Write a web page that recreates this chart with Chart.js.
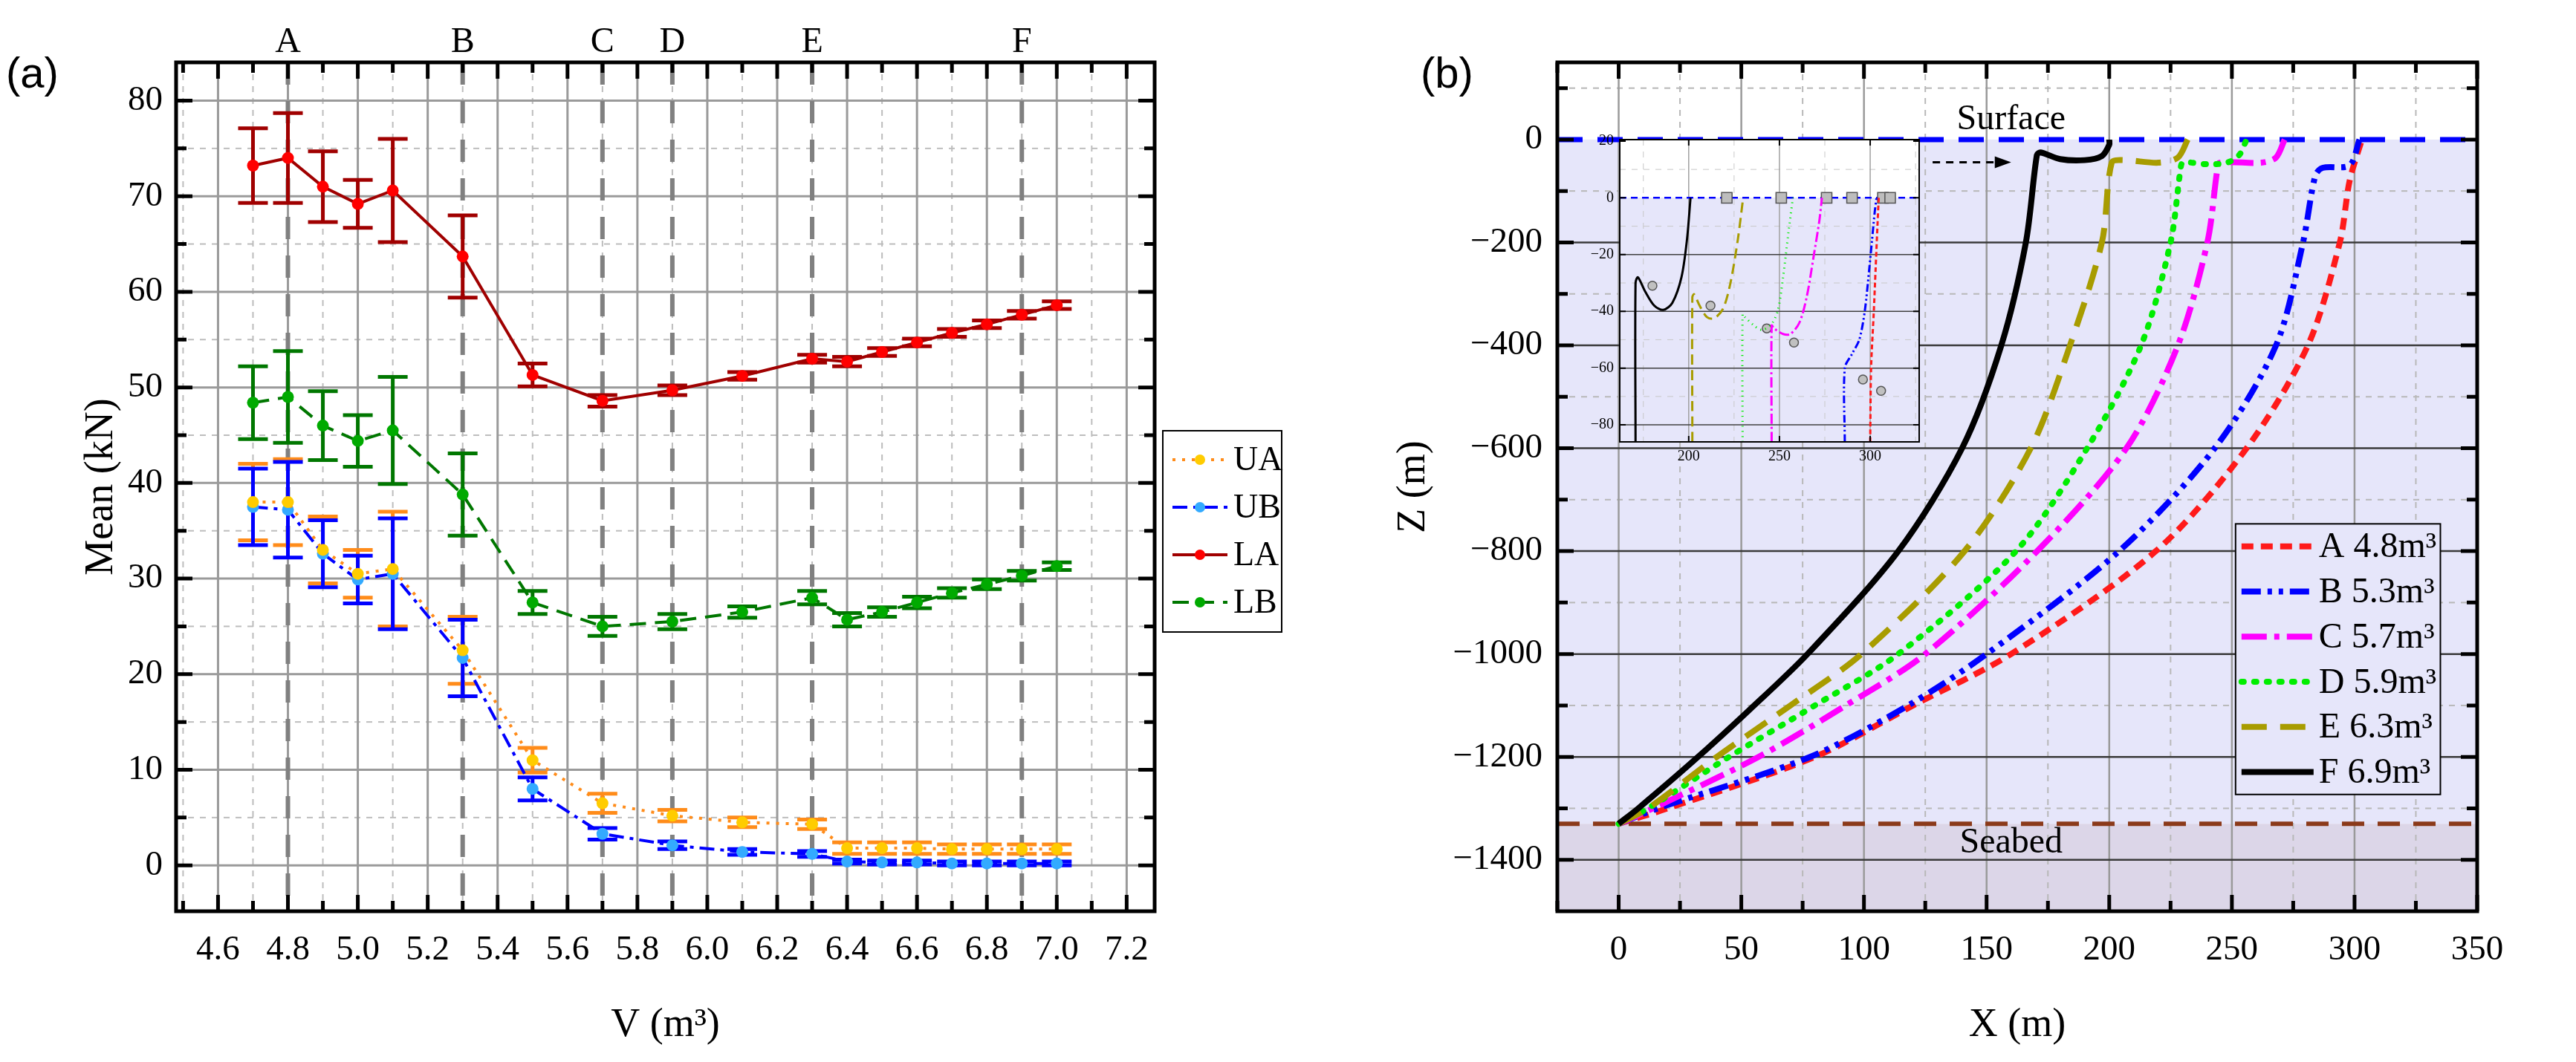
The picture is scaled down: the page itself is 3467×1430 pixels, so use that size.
<!DOCTYPE html>
<html>
<head>
<meta charset="utf-8">
<script src="https://cdn.jsdelivr.net/npm/chart.js@4.4.1/dist/chart.umd.min.js"></script>
<style>
  html, body { margin: 0; padding: 0; background: #fff; }
  #wrap { position: relative; width: 3467px; height: 1430px; overflow: hidden; }
  canvas { position: absolute; top: 0; }
  #cA { left: 0; }
  #cB { left: 1800px; }
  #cIn { left: 2100px; top: 150px; }
</style>
</head>
<body>
<div id="wrap">
  <canvas id="cA" width="1760" height="1430"></canvas>
  <canvas id="cB" width="1667" height="1430"></canvas>
  <canvas id="cIn" width="520" height="500"></canvas>
</div>
<script>
// ---- panel (a) data ----
const volumes = [4.7, 4.8, 4.9, 5.0, 5.1, 5.3, 5.5, 5.7, 5.9, 6.1, 6.3, 6.4, 6.5, 6.6, 6.7, 6.8, 6.9, 7.0];
const uaMean = [38.0, 38.0, 33.0, 30.5, 31.0, 22.5, 11.0, 6.5, 5.2, 4.5, 4.3, 1.8, 1.8, 1.8, 1.7, 1.7, 1.7, 1.7];
const uaErr  = [4.0, 4.5, 3.5, 2.5, 6.0, 3.5, 1.3, 1.0, 0.6, 0.5, 0.5, 0.6, 0.6, 0.6, 0.5, 0.5, 0.5, 0.5];
const ubMean = [37.5, 37.2, 32.6, 29.9, 30.5, 21.7, 8.0, 3.3, 2.1, 1.4, 1.2, 0.4, 0.3, 0.3, 0.2, 0.2, 0.2, 0.2];
const ubErr  = [4.0, 5.0, 3.5, 2.5, 5.8, 4.0, 1.2, 0.6, 0.4, 0.3, 0.3, 0.2, 0.2, 0.2, 0.2, 0.2, 0.2, 0.2];
const laMean = [73.2, 74.0, 71.0, 69.2, 70.6, 63.7, 51.3, 48.6, 49.7, 51.2, 53.0, 52.7, 53.7, 54.7, 55.7, 56.6, 57.6, 58.6];
const laErr  = [3.9, 4.7, 3.7, 2.5, 5.4, 4.3, 1.2, 0.6, 0.5, 0.4, 0.4, 0.5, 0.4, 0.4, 0.4, 0.4, 0.4, 0.4];
const lbMean = [48.4, 49.0, 46.0, 44.4, 45.5, 38.8, 27.5, 25.0, 25.5, 26.5, 28.0, 25.7, 26.5, 27.5, 28.5, 29.4, 30.3, 31.3];
const lbErr  = [3.8, 4.8, 3.6, 2.7, 5.6, 4.3, 1.2, 1.0, 0.8, 0.6, 0.7, 0.7, 0.5, 0.6, 0.5, 0.5, 0.5, 0.4];
const caseNames = ['A', 'B', 'C', 'D', 'E', 'F'];
const caseVolumes = [4.8, 5.3, 5.7, 5.9, 6.3, 6.9];
const xTicksA = [4.6, 4.8, 5.0, 5.2, 5.4, 5.6, 5.8, 6.0, 6.2, 6.4, 6.6, 6.8, 7.0, 7.2];
const yTicksA = [0, 10, 20, 30, 40, 50, 60, 70, 80];

// ---- panel (b) data: trajectories X (m), Z (m) ----
const aX = [0, 20, 80, 120, 160, 219, 256, 281, 294, 298, 303];
const aZ = [-1330, -1300, -1200, -1100, -1000, -800, -600, -400, -200, -80, 0];
const bX = [0, 16, 78, 118, 150, 204, 243, 268, 279, 284, 287, 298, 302];
const bZ = [-1330, -1300, -1200, -1100, -1000, -800, -600, -400, -200, -70, -55, -50, 0];
const cX = [0, 14, 57, 92.6, 125, 170.6, 207, 228, 240, 244, 245, 262, 268, 271.5];
const cZ = [-1330, -1300, -1200, -1100, -1000, -800, -600, -400, -200, -60, -45, -45, -35, 0];
const dX = [0, 12, 45, 80, 114, 162, 191, 213, 225, 229, 230, 240, 248, 253, 256];
const dZ = [-1330, -1300, -1200, -1100, -1000, -800, -600, -400, -200, -60, -45, -48, -45, -30, 0];
const eX = [0, 12, 40, 70, 99, 141, 168, 184, 197, 201, 206, 220, 228, 232];
const eZ = [-1330, -1300, -1200, -1100, -1000, -800, -600, -400, -200, -45, -40, -45, -35, 0];
const fX = [0, 8, 30, 53, 77, 114, 140, 156, 166, 170.5, 172, 180, 190, 197, 200, 200];
const fZ = [-1330, -1300, -1210, -1110, -1000, -800, -600, -400, -200, -30, -25, -38, -40, -32, -10, 0];
const trajLabels = ['A 4.8m³', 'B 5.3m³', 'C 5.7m³', 'D 5.9m³', 'E 6.3m³', 'F 6.9m³'];
const xTicksB = [0, 50, 100, 150, 200, 250, 300, 350];
const yTicksB = [0, -200, -400, -600, -800, -1000, -1200, -1400];
const seabedZ = -1330;

// ---- inset data ----
const aInX = [300, 300.5, 302, 303, 304, 304.7];
const aInZ = [-86, -60, -40, -25, -10, 0];
const bInX = [286, 286, 290, 294, 297, 299.5, 301, 302.5, 303.5];
const bInZ = [-86, -60, -55, -50, -40, -25, -15, -5, 0];
const cInX = [245.7, 245.7, 247, 252, 256, 261, 265, 269, 272, 273.4];
const cInZ = [-86, -45, -46, -48, -48, -44, -35, -20, -8, 0];
const dInX = [229.7, 229.7, 231, 236, 240, 245, 249, 252, 255, 257.4];
const dInZ = [-86, -41, -42, -45, -46.5, -45, -40, -28, -12, 0];
const eInX = [202, 202, 203, 206, 210, 214, 219, 223, 227, 230];
const eInZ = [-86, -35, -34, -38, -42, -42.5, -39, -30, -15, 0];
const fInX = [170.7, 170.7, 172, 176, 181, 186, 191, 196, 199, 201];
const fInZ = [-86, -30, -28, -33, -38, -39.5, -37, -28, -15, 0];
const buoyX = [221, 251, 276, 290, 307, 311];
const anchorX = [180, 212, 243, 258, 296, 306];
const anchorZ = [-31, -38, -46, -51, -64, -68];
const xTicksIn = [200, 250, 300];
const yTicksIn = [20, 0, -20, -40, -60, -80];

const SERIF = '"Liberation Serif", "DejaVu Serif", serif';
Chart.defaults.font.family = SERIF;
Chart.defaults.color = '#000';
Chart.defaults.animation = false;

const trajStyles = [
  { color: '#ff1a1a', dash: [16, 10] },
  { color: '#0000ff', dash: [26, 9, 6, 9, 6, 9] },
  { color: '#ff00ff', dash: [34, 10, 7, 10] },
  { color: '#00ee00', dash: [3, 14] },
  { color: '#a89c00', dash: [34, 18] },
  { color: '#000000', dash: [] }
];

function pts(xs, ys) {
  return xs.map(function (x, i) { return { x: x, y: ys[i] }; });
}

function minusFmt(v) {
  return String(v).replace('-', '\u2212');
}

// grid, frame and inward ticks drawn by hand
function drawGrid(chart, g) {
  const ctx = chart.ctx, a = chart.chartArea, sx = chart.scales.x, sy = chart.scales.y;
  ctx.save();
  ctx.beginPath();
  ctx.rect(a.left, a.top, a.right - a.left, a.bottom - a.top);
  ctx.clip();
  function line(x1, y1, x2, y2, color, w, dash) {
    ctx.beginPath();
    ctx.strokeStyle = color;
    ctx.lineWidth = w;
    ctx.setLineDash(dash);
    ctx.moveTo(x1, y1);
    ctx.lineTo(x2, y2);
    ctx.stroke();
  }
  g.xMinor.forEach(function (v) { const p = sx.getPixelForValue(v); line(p, a.top, p, a.bottom, g.minorColor, g.minorW, [8, 8]); });
  g.yMinor.forEach(function (v) { const p = sy.getPixelForValue(v); line(a.left, p, a.right, p, g.minorColor, g.minorW, [8, 8]); });
  g.xMajor.forEach(function (v) { const p = sx.getPixelForValue(v); line(p, a.top, p, a.bottom, g.xMajorColor, g.majorW, []); });
  g.yMajor.forEach(function (v) { const p = sy.getPixelForValue(v); line(a.left, p, a.right, p, g.yMajorColor, g.majorW, []); });
  ctx.restore();
}

function drawFrame(chart, g) {
  const ctx = chart.ctx, a = chart.chartArea, sx = chart.scales.x, sy = chart.scales.y;
  ctx.save();
  ctx.strokeStyle = '#000';
  ctx.setLineDash([]);
  ctx.lineWidth = g.tickW;
  function tk(list, len, vertical) {
    list.forEach(function (v) {
      ctx.beginPath();
      if (vertical) {
        const p = sx.getPixelForValue(v);
        ctx.moveTo(p, a.bottom); ctx.lineTo(p, a.bottom - len);
        ctx.moveTo(p, a.top); ctx.lineTo(p, a.top + len);
      } else {
        const p = sy.getPixelForValue(v);
        ctx.moveTo(a.left, p); ctx.lineTo(a.left + len, p);
        ctx.moveTo(a.right, p); ctx.lineTo(a.right - len, p);
      }
      ctx.stroke();
    });
  }
  tk(g.xMajor, g.majLen, true);
  tk(g.xMinor, g.minLen, true);
  tk(g.yMajor, g.majLen, false);
  tk(g.yMinor, g.minLen, false);
  ctx.lineWidth = g.frameW;
  ctx.strokeRect(a.left, a.top, a.right - a.left, a.bottom - a.top);
  ctx.restore();
}

// ================= panel (a) =================
const gridA = {
  xMajor: xTicksA, xMinor: [4.5, 4.7, 4.9, 5.1, 5.3, 5.5, 5.7, 5.9, 6.1, 6.3, 6.5, 6.7, 6.9, 7.1],
  yMajor: yTicksA, yMinor: [5, 15, 25, 35, 45, 55, 65, 75],
  minorColor: '#bdbdbd', xMajorColor: '#9a9a9a', yMajorColor: '#9a9a9a', majorW: 3, minorW: 2,
  tickW: 5, majLen: 22, minLen: 14, frameW: 5
};

const seriesA = [
  { label: 'UA', mean: uaMean, err: uaErr, line: '#ff8c1a', marker: '#ffcc00', bar: '#ff8c1a', dash: [4, 9] },
  { label: 'UB', mean: ubMean, err: ubErr, line: '#0000ff', marker: '#33aaff', bar: '#0000ff', dash: [20, 8, 5, 8] },
  { label: 'LA', mean: laMean, err: laErr, line: '#a00000', marker: '#ff0000', bar: '#a00000', dash: [] },
  { label: 'LB', mean: lbMean, err: lbErr, line: '#007700', marker: '#00aa00', bar: '#007700', dash: [22, 12] }
];

const panelAPlugin = {
  id: 'panelA',
  beforeDatasetsDraw: function (chart) {
    drawGrid(chart, gridA);
    const ctx = chart.ctx, a = chart.chartArea, sx = chart.scales.x, sy = chart.scales.y;
    // case marker lines
    ctx.save();
    ctx.strokeStyle = '#808080';
    ctx.lineWidth = 6;
    ctx.setLineDash([30, 22]);
    caseVolumes.forEach(function (v) {
      const p = sx.getPixelForValue(v);
      ctx.beginPath(); ctx.moveTo(p, a.top); ctx.lineTo(p, a.bottom); ctx.stroke();
    });
    // error bars
    ctx.setLineDash([]);
    ctx.lineWidth = 5;
    seriesA.forEach(function (s) {
      ctx.strokeStyle = s.bar;
      volumes.forEach(function (v, i) {
        const px = sx.getPixelForValue(v);
        const lo = sy.getPixelForValue(s.mean[i] - s.err[i]);
        const hi = sy.getPixelForValue(s.mean[i] + s.err[i]);
        ctx.beginPath();
        ctx.moveTo(px, lo); ctx.lineTo(px, hi);
        ctx.moveTo(px - 20, lo); ctx.lineTo(px + 20, lo);
        ctx.moveTo(px - 20, hi); ctx.lineTo(px + 20, hi);
        ctx.stroke();
      });
    });
    ctx.restore();
  },
  afterDraw: function (chart) {
    drawFrame(chart, gridA);
    const ctx = chart.ctx, a = chart.chartArea, sx = chart.scales.x;
    ctx.save();
    ctx.fillStyle = '#000';
    ctx.font = '48px ' + SERIF;
    ctx.textAlign = 'center';
    ctx.textBaseline = 'alphabetic';
    caseNames.forEach(function (n, i) {
      ctx.fillText(n, sx.getPixelForValue(caseVolumes[i]), a.top - 14);
    });
    ctx.font = '58px "Liberation Sans", Arial, sans-serif';
    ctx.textAlign = 'left';
    ctx.fillText('(a)', 8, 118);
    // legend
    ctx.lineWidth = 2;
    ctx.strokeStyle = '#000';
    ctx.strokeRect(1565, 580, 160, 271);
    ctx.font = '46px ' + SERIF;
    ctx.textBaseline = 'middle';
    seriesA.forEach(function (s, i) {
      const yy = 619 + i * 64;
      ctx.strokeStyle = s.line;
      ctx.lineWidth = 4;
      ctx.setLineDash(s.dash);
      ctx.beginPath(); ctx.moveTo(1578, yy); ctx.lineTo(1652, yy); ctx.stroke();
      ctx.setLineDash([]);
      ctx.fillStyle = s.marker;
      ctx.beginPath(); ctx.arc(1615, yy, 7, 0, Math.PI * 2); ctx.fill();
      ctx.fillStyle = '#000';
      ctx.fillText(s.label, 1660, yy + 2);
    });
    ctx.restore();
  }
};

new Chart(document.getElementById('cA'), {
  type: 'line',
  data: {
    datasets: seriesA.map(function (s) {
      return {
        label: s.label,
        data: pts(volumes, s.mean),
        borderColor: s.line,
        borderWidth: 4,
        borderDash: s.dash,
        pointRadius: 8,
        pointBackgroundColor: s.marker,
        pointBorderWidth: 0,
        tension: 0
      };
    })
  },
  options: {
    responsive: false,
    devicePixelRatio: 1,
    layout: { padding: { top: 84, right: 206, left: 0, bottom: 0 } },
    plugins: { legend: { display: false }, tooltip: { enabled: false } },
    scales: {
      x: {
        type: 'linear', min: 4.48, max: 7.28,
        grid: { display: false, drawTicks: false }, border: { display: false },
        afterBuildTicks: function (sc) { sc.ticks = xTicksA.map(function (v) { return { value: v }; }); },
        afterFit: function (sc) { sc.height = 203; },
        ticks: { font: { size: 47 }, padding: 24, maxRotation: 0, autoSkip: false, callback: function (v) { return v.toFixed(1); } },
        title: { display: true, text: 'V (m³)', font: { size: 54 }, padding: { top: 17, bottom: 17 } }
      },
      y: {
        type: 'linear', min: -4.8, max: 84,
        grid: { display: false, drawTicks: false }, border: { display: false },
        afterBuildTicks: function (sc) { sc.ticks = yTicksA.map(function (v) { return { value: v }; }); },
        afterFit: function (sc) { sc.width = 237; },
        ticks: { font: { size: 47 }, padding: 18 },
        title: { display: true, text: 'Mean (kN)', font: { size: 54 }, padding: { top: 104, bottom: 104 } }
      }
    }
  },
  plugins: [panelAPlugin]
});

// ================= panel (b) =================
const gridB = {
  xMajor: [0, 50, 100, 150, 200, 250, 300, 350], xMinor: [-25, 25, 75, 125, 175, 225, 275, 325],
  yMajor: [-200, -400, -600, -800, -1000, -1200, -1400], yMinor: [100, -100, -300, -500, -700, -900, -1100, -1300],
  minorColor: '#b8b8b8', xMajorColor: '#9a9a9a', yMajorColor: '#3a3a3a', majorW: 2.5, minorW: 2,
  tickW: 5, majLen: 22, minLen: 14, frameW: 5
};

const trajX = [aX, bX, cX, dX, eX, fX];
const trajZ = [aZ, bZ, cZ, dZ, eZ, fZ];

const panelBPlugin = {
  id: 'panelB',
  beforeDatasetsDraw: function (chart) {
    const ctx = chart.ctx, a = chart.chartArea, sy = chart.scales.y;
    const y0 = sy.getPixelForValue(0), ys = sy.getPixelForValue(seabedZ);
    ctx.save();
    ctx.fillStyle = '#e6e6fa';
    ctx.fillRect(a.left, y0, a.right - a.left, ys - y0);
    ctx.fillStyle = '#dcd6e8';
    ctx.fillRect(a.left, ys, a.right - a.left, a.bottom - ys);
    ctx.restore();
    drawGrid(chart, gridB);
    ctx.save();
    ctx.beginPath();
    ctx.rect(a.left, a.top, a.right - a.left, a.bottom - a.top);
    ctx.clip();
    ctx.lineWidth = 7;
    ctx.strokeStyle = '#0000ff';
    ctx.setLineDash([34, 20]);
    ctx.beginPath(); ctx.moveTo(a.left, y0); ctx.lineTo(a.right, y0); ctx.stroke();
    ctx.strokeStyle = '#8b3a1a';
    ctx.lineWidth = 6;
    ctx.setLineDash([30, 18]);
    ctx.beginPath(); ctx.moveTo(a.left, ys); ctx.lineTo(a.right, ys); ctx.stroke();
    ctx.restore();
  },
  afterDraw: function (chart) {
    drawFrame(chart, { xMajor: gridB.xMajor, xMinor: gridB.xMinor, yMajor: [0].concat(gridB.yMajor), yMinor: gridB.yMinor, tickW: 5, majLen: 22, minLen: 14, frameW: 5 });
    const ctx = chart.ctx, sx = chart.scales.x, sy = chart.scales.y;
    ctx.save();
    ctx.fillStyle = '#000';
    ctx.font = '48px ' + SERIF;
    ctx.textAlign = 'center';
    ctx.textBaseline = 'middle';
    ctx.fillText('Surface', sx.getPixelForValue(160), sy.getPixelForValue(38));
    ctx.fillText('Seabed', sx.getPixelForValue(160), sy.getPixelForValue(-1368));
    // arrow
    const ax1 = sx.getPixelForValue(128), ax2 = sx.getPixelForValue(160), ay = sy.getPixelForValue(-44);
    ctx.strokeStyle = '#000';
    ctx.lineWidth = 3;
    ctx.setLineDash([10, 8]);
    ctx.beginPath(); ctx.moveTo(ax1, ay); ctx.lineTo(ax2 - 14, ay); ctx.stroke();
    ctx.setLineDash([]);
    ctx.beginPath(); ctx.moveTo(ax2, ay); ctx.lineTo(ax2 - 22, ay - 8); ctx.lineTo(ax2 - 22, ay + 8); ctx.closePath(); ctx.fill();
    // legend
    const lx1 = sx.getPixelForValue(251.5), lx2 = sx.getPixelForValue(335);
    const ly1 = sy.getPixelForValue(-747), ly2 = sy.getPixelForValue(-1273);
    ctx.fillStyle = '#e6e6fa';
    ctx.fillRect(lx1, ly1, lx2 - lx1, ly2 - ly1);
    ctx.lineWidth = 2;
    ctx.strokeRect(lx1, ly1, lx2 - lx1, ly2 - ly1);
    ctx.font = '48px ' + SERIF;
    ctx.textAlign = 'left';
    const rowH = (ly2 - ly1) / 6;
    trajLabels.forEach(function (t, i) {
      const yy = ly1 + rowH * (i + 0.5);
      ctx.strokeStyle = trajStyles[i].color;
      ctx.lineWidth = 8;
      ctx.setLineDash(trajStyles[i].dash);
      ctx.lineCap = i === 3 ? 'round' : 'butt';
      ctx.beginPath(); ctx.moveTo(lx1 + 8, yy); ctx.lineTo(lx1 + 105, yy); ctx.stroke();
      ctx.setLineDash([]);
      ctx.fillStyle = '#000';
      ctx.fillText(t, lx1 + 112, yy + 2);
    });
    ctx.font = '58px "Liberation Sans", Arial, sans-serif';
    ctx.textAlign = 'left';
    ctx.textBaseline = 'alphabetic';
    ctx.fillText('(b)', 1912 - 1800, 118);
    ctx.restore();
  }
};

new Chart(document.getElementById('cB'), {
  type: 'scatter',
  data: {
    datasets: trajX.map(function (xs, i) {
      return {
        label: trajLabels[i],
        data: pts(xs, trajZ[i]),
        showLine: true,
        borderColor: trajStyles[i].color,
        borderWidth: 8,
        borderDash: trajStyles[i].dash,
        borderCapStyle: i === 3 ? 'round' : 'butt',
        pointRadius: 0,
        tension: 0.3
      };
    }).reverse()
  },
  options: {
    responsive: false,
    devicePixelRatio: 1,
    layout: { padding: { top: 84, right: 133, left: 0, bottom: 0 } },
    plugins: { legend: { display: false }, tooltip: { enabled: false } },
    scales: {
      x: {
        type: 'linear', min: -25, max: 350,
        grid: { display: false, drawTicks: false }, border: { display: false },
        afterBuildTicks: function (sc) { sc.ticks = xTicksB.map(function (v) { return { value: v }; }); },
        afterFit: function (sc) { sc.height = 203; },
        ticks: { font: { size: 47 }, padding: 24, maxRotation: 0, autoSkip: false },
        title: { display: true, text: 'X (m)', font: { size: 54 }, padding: { top: 17, bottom: 17 } }
      },
      y: {
        type: 'linear', min: -1500, max: 150,
        grid: { display: false, drawTicks: false }, border: { display: false },
        afterBuildTicks: function (sc) { sc.ticks = yTicksB.map(function (v) { return { value: v }; }); },
        afterFit: function (sc) { sc.width = 296; },
        ticks: { font: { size: 47 }, padding: 20, callback: function (v) { return minusFmt(v); } },
        title: { display: true, text: 'Z (m)', font: { size: 54 }, padding: { top: 70, bottom: 70 } }
      }
    }
  },
  plugins: [panelBPlugin]
});

// ================= inset =================
const gridIn = {
  xMajor: [200, 250, 300], xMinor: [175, 225, 275, 325],
  yMajor: [-20, -40, -60, -80], yMinor: [10, -10, -30, -50, -70],
  minorColor: '#c8c8c8', xMajorColor: '#a0a0a0', yMajorColor: '#404040', majorW: 1.5, minorW: 1,
  tickW: 2, majLen: 8, minLen: 5, frameW: 2
};
const inX = [aInX, bInX, cInX, dInX, eInX, fInX];
const inZ = [aInZ, bInZ, cInZ, dInZ, eInZ, fInZ];

const insetPlugin = {
  id: 'inset',
  beforeDatasetsDraw: function (chart) {
    const ctx = chart.ctx, a = chart.chartArea, sy = chart.scales.y;
    const y0 = sy.getPixelForValue(0);
    ctx.save();
    ctx.fillStyle = '#fff';
    ctx.fillRect(a.left, a.top, a.right - a.left, y0 - a.top);
    ctx.fillStyle = '#e6e6fa';
    ctx.fillRect(a.left, y0, a.right - a.left, a.bottom - y0);
    ctx.restore();
    drawGrid(chart, gridIn);
    ctx.save();
    ctx.strokeStyle = '#0000ff';
    ctx.lineWidth = 2.5;
    ctx.setLineDash([9, 6]);
    ctx.beginPath(); ctx.moveTo(a.left, y0); ctx.lineTo(a.right, y0); ctx.stroke();
    ctx.restore();
  },
  afterDraw: function (chart) {
    drawFrame(chart, { xMajor: [200, 250, 300], xMinor: [], yMajor: [20, 0, -20, -40, -60, -80], yMinor: [], tickW: 2, majLen: 8, minLen: 5, frameW: 2 });
  }
};

const inDatasets = inX.map(function (xs, i) {
  return {
    data: pts(xs, inZ[i]),
    showLine: true,
    borderColor: trajStyles[i].color,
    borderWidth: 3,
    borderDash: trajStyles[i].dash.map(function (d) { return d / 2.5; }),
    pointRadius: 0,
    tension: 0.3
  };
});
inDatasets.push({
  data: buoyX.map(function (x) { return { x: x, y: 0 }; }),
  showLine: false, pointStyle: 'rect', pointRadius: 10,
  pointBackgroundColor: '#bdbdbd', pointBorderColor: '#555', pointBorderWidth: 1.5
});
inDatasets.push({
  data: pts(anchorX, anchorZ),
  showLine: false, pointStyle: 'circle', pointRadius: 6,
  pointBackgroundColor: '#c0c0c0', pointBorderColor: '#555', pointBorderWidth: 1.5
});

new Chart(document.getElementById('cIn'), {
  type: 'scatter',
  data: { datasets: inDatasets },
  options: {
    responsive: false,
    devicePixelRatio: 1,
    layout: { padding: { top: 38, right: 37, left: 0, bottom: 0 } },
    plugins: { legend: { display: false }, tooltip: { enabled: false } },
    scales: {
      x: {
        type: 'linear', min: 162, max: 327,
        grid: { display: false, drawTicks: false }, border: { display: false },
        afterBuildTicks: function (sc) { sc.ticks = xTicksIn.map(function (v) { return { value: v }; }); },
        afterFit: function (sc) { sc.height = 55; },
        ticks: { font: { size: 20 }, padding: 8, maxRotation: 0, autoSkip: false }
      },
      y: {
        type: 'linear', min: -86, max: 20.5,
        grid: { display: false, drawTicks: false }, border: { display: false },
        afterBuildTicks: function (sc) { sc.ticks = yTicksIn.map(function (v) { return { value: v }; }); },
        afterFit: function (sc) { sc.width = 80; },
        ticks: { font: { size: 20 }, padding: 8, callback: function (v) { return minusFmt(v); } }
      }
    }
  },
  plugins: [insetPlugin]
});
</script>
</body>
</html>
